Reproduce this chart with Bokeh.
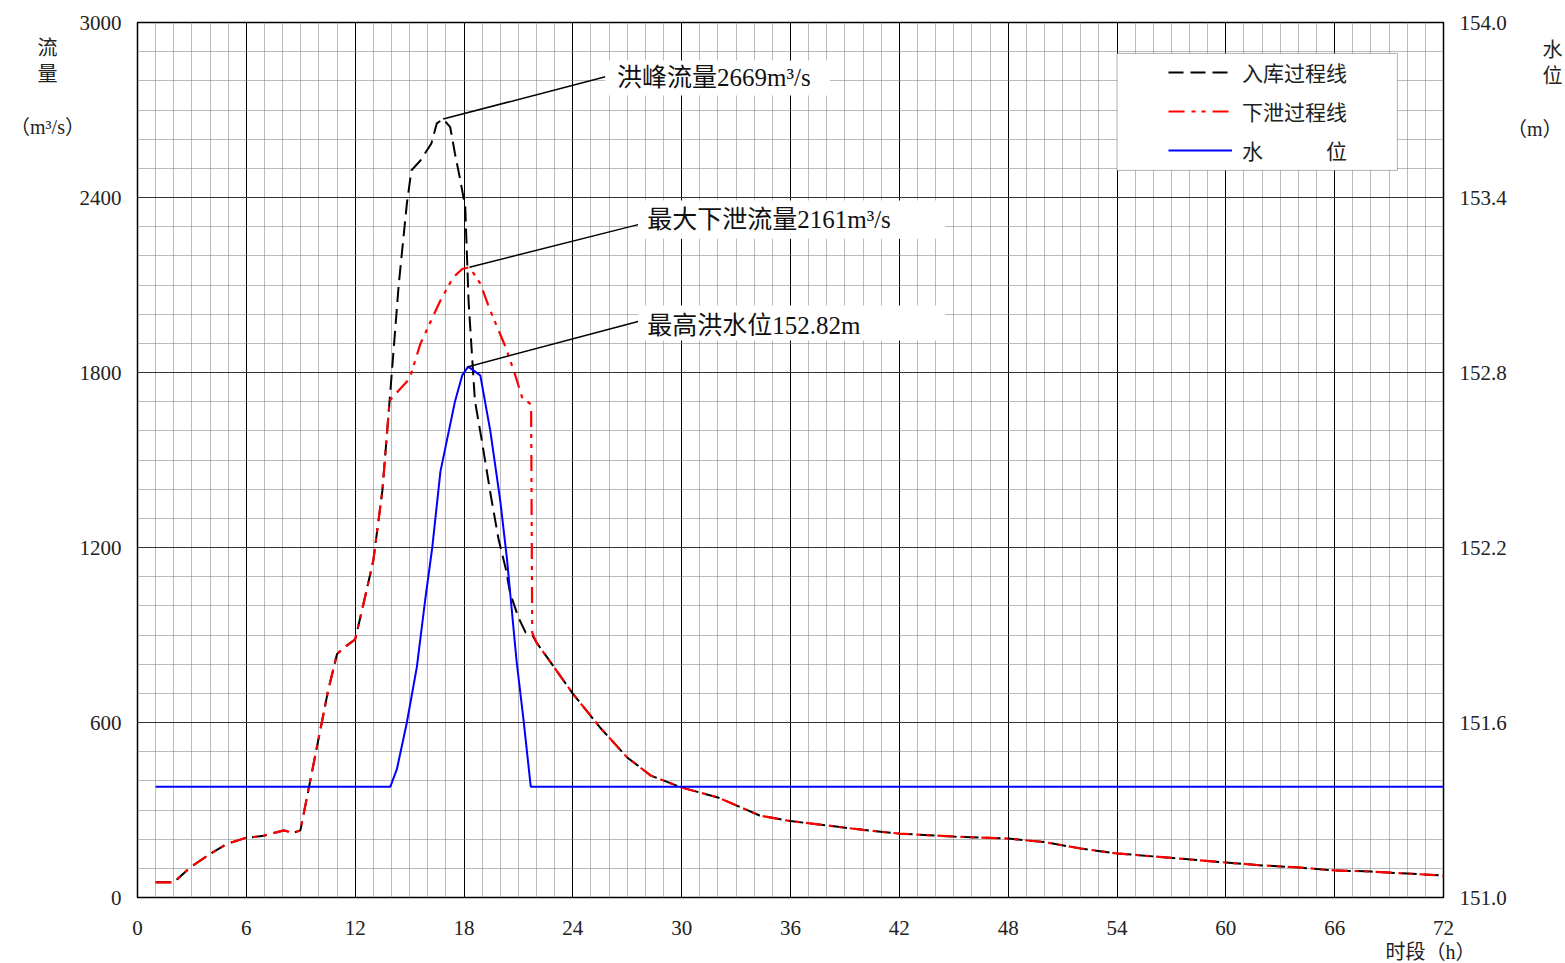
from bokeh.plotting import figure
from bokeh.models import (Range1d, LinearAxis, FixedTicker, PrintfTickFormatter,
                          Legend, LegendItem, BoxAnnotation, Label)
from bokeh.embed import file_html
from bokeh.resources import INLINE

# ---------------- data ----------------
# inflow hydrograph (入库过程线), m3/s
t_in = [1, 2, 2.92, 4.02, 4.94, 5.95, 6.96, 8.06, 8.6, 8.98, 10, 10.5, 11, 11.5, 12,
        12.5, 13, 13.5, 13.9, 14.4, 14.85, 15.1, 15.6, 16.2, 16.5, 16.85, 17.24, 17.5,
        17.8, 18.07, 18.25, 18.6, 19.0, 19.5, 19.9, 20.3, 20.55, 21.0, 21.4, 21.76,
        22.0, 24, 25.5, 27, 28.3, 30, 32, 34.3, 36, 38, 40, 42, 45, 48, 50, 52, 54,
        56, 60, 62, 64, 66, 68, 70, 72]
q_in = [52, 52, 104, 150, 184, 204, 212, 230, 222, 230, 550, 707, 835, 862, 885,
        1018, 1155, 1395, 1704, 2100, 2379, 2493, 2527, 2585, 2654, 2669, 2641, 2551,
        2458, 2367, 2047, 1704, 1560, 1370, 1230, 1128, 1042, 960, 908, 900,
        874, 699, 583, 480, 418, 377, 343, 281, 262, 247, 232, 219, 209, 202, 190,
        168, 151, 141, 120, 110, 103, 93, 89, 82, 75]

# outflow hydrograph (下泄过程线), m3/s
t_out = [1, 2, 2.92, 4.02, 4.94, 5.95, 6.96, 8.06, 8.6, 8.98, 10, 10.5, 11, 11.5, 12,
         12.5, 13, 13.5, 13.9, 14.5, 15.0, 15.6, 16.7, 17.4, 17.9, 18.3, 18.9, 19.45,
         20.3, 20.8, 21.2, 21.7, 21.76, 22.0, 24, 25.5, 27, 28.3, 30, 32, 34.3, 36,
         38, 40, 42, 45, 48, 50, 52, 54, 56, 60, 62, 64, 66, 68, 70, 72]
q_out = [52, 52, 104, 150, 184, 204, 212, 230, 222, 230, 550, 707, 835, 862, 885,
         1018, 1155, 1395, 1704, 1745, 1779, 1899, 2047, 2126, 2155, 2161, 2105, 2012,
         1886, 1796, 1715, 1690, 908, 874, 699, 583, 480, 418, 377, 343, 281, 262,
         247, 232, 219, 209, 202, 190, 168, 151, 141, 120, 110, 103, 93, 89, 82, 75]

# reservoir water level (水位), m
t_lv = [1, 13.94, 14.3, 14.85, 15.4, 15.86, 16.25, 16.7, 17.5, 17.9, 18.23, 18.9,
        19.45, 20.0, 20.37, 20.9, 21.28, 21.68, 72]
lv = [151.38, 151.38, 151.44, 151.6, 151.79, 152.02, 152.2, 152.46, 152.7, 152.79,
      152.82, 152.79, 152.6, 152.36, 152.16, 151.81, 151.61, 151.38, 151.38]

x_ticks = list(range(0, 73, 6))
q_ticks = list(range(0, 3001, 600))
lv_ticks = [151.0, 151.6, 152.2, 152.8, 153.4, 154.0]

SERIF = "Liberation Serif, Noto Sans CJK SC"
CJK = "Noto Sans CJK SC"

# ---------------- figure ----------------
p = figure(width=1565, height=963, x_range=Range1d(0, 72), y_range=Range1d(0, 3000),
           output_backend="svg", toolbar_location=None,
           min_border_left=137, min_border_right=121, min_border_top=22,
           min_border_bottom=66, background_fill_color="white")
p.extra_y_ranges = {"level": Range1d(151.0, 154.0)}

p.xaxis.ticker = FixedTicker(ticks=x_ticks, minor_ticks=list(range(0, 73)))
p.yaxis.ticker = FixedTicker(ticks=q_ticks, minor_ticks=list(range(0, 3001, 100)))

right = LinearAxis(y_range_name="level",
                   ticker=FixedTicker(ticks=lv_ticks),
                   formatter=PrintfTickFormatter(format="%.1f"))
p.add_layout(right, "right")

for ax in [p.xaxis[0], p.yaxis[0], right]:
    ax.major_tick_out = 0
    ax.major_tick_in = 0
    ax.minor_tick_out = 0
    ax.minor_tick_in = 0
    ax.axis_line_color = None
    ax.major_label_text_font = SERIF
    ax.major_label_text_font_size = "21px"
    ax.major_label_text_color = "#222222"
p.xaxis.major_label_standoff = 23
p.yaxis.major_label_standoff = 16
right.major_label_standoff = 16

p.outline_line_color = "black"
p.outline_line_width = 1.5
p.outline_line_alpha = 1

p.xgrid.grid_line_color = "black"
p.xgrid.grid_line_width = 1
p.xgrid.minor_grid_line_color = "#777777"
p.xgrid.minor_grid_line_dash = "1 1"
p.ygrid.grid_line_color = "#333333"
p.ygrid.grid_line_width = 1
p.ygrid.minor_grid_line_color = "#777777"
p.ygrid.minor_grid_line_dash = "1 1"

# ---------------- series ----------------
r_in = p.line(t_in, q_in, line_color="black", line_width=2, line_dash="15 7")
r_out = p.line(t_out, q_out, line_color="red", line_width=2.2, line_dash="16 7 4 6 4 7")
r_lv = p.line(t_lv, lv, line_color="blue", line_width=2, y_range_name="level")

# ---------------- legend ----------------
p.add_layout(BoxAnnotation(left=54.0, right=69.46, top=2894, bottom=2493,
                           fill_color="white", fill_alpha=1,
                           line_color="black", line_width=1, level="annotation"))
legend = Legend(items=[LegendItem(label="入库过程线", renderers=[r_in]),
                       LegendItem(label="下泄过程线", renderers=[r_out]),
                       LegendItem(label="水　　　位", renderers=[r_lv])],
                location="top_right", margin=35, padding=0, spacing=9,
                glyph_width=64, glyph_height=30, label_height=30, label_width=166,
                label_standoff=10, border_line_alpha=0, background_fill_alpha=0,
                label_text_font=CJK, label_text_font_size="21px",
                label_text_color="#222222")
p.add_layout(legend)

# ---------------- peak annotations ----------------
i_in = q_in.index(max(q_in))
i_out = q_out.index(max(q_out))
i_lv = lv.index(max(lv))

def q_to_lv(q):
    return 151.0 + q / 1000.0

ann = [
    # (box l, r, t, b), text x, text y, text, line end x, line end y
    ((25.78, 38.18, 2870, 2750), 26.44, 2811, "洪峰流量%dm³/s" % q_in[i_in], 26.06, 2818),
    ((27.6, 44.51, 2390, 2259), 28.1, 2325, "最大下泄流量%dm³/s" % q_out[i_out], 27.6, 2307),
    ((27.6, 44.51, 2030, 1910), 28.1, 1961, "最高洪水位%.2fm" % lv[i_lv], 27.6, 1975),
]
for (bl, br, bt, bb), tx, ty, txt, lx, ly in ann:
    p.add_layout(BoxAnnotation(left=bl, right=br, top=bt, bottom=bb,
                               fill_color="white", fill_alpha=1, line_alpha=0,
                               level="annotation"))
    p.add_layout(Label(x=tx, y=ty, text=txt, text_font=SERIF, text_font_size="25px",
                       text_baseline="middle", text_align="left", text_color="#111111"))

p.segment(x0=[t_in[i_in], t_out[i_out]], y0=[q_in[i_in], q_out[i_out]],
          x1=[ann[0][4], ann[1][4]], y1=[ann[0][5], ann[1][5]],
          line_color="black", line_width=1.5)
p.segment(x0=[t_lv[i_lv]], y0=[lv[i_lv]], x1=[ann[2][4]], y1=[q_to_lv(ann[2][5])],
          line_color="black", line_width=1.5, y_range_name="level")

# ---------------- axis titles (canvas pixels, in side panels) ----------------
titles = [
    ("left", 47, 87, "center", "流\n量\n\n（m³/s）"),
    ("right", 1562, 89, "right", "水\n位\n\n（m）"),
    ("below", 1430, 951, "center", "时段（h）"),
]
for side, x, y, align, t in titles:
    p.add_layout(Label(x=x, y=y, x_units="canvas", y_units="canvas", text=t,
                       text_font=SERIF, text_font_size="20px", text_line_height=1.2,
                       text_align=align, text_baseline="middle",
                       text_color="#222222"), side)

open("out.html", "w").write(file_html(p, INLINE))
